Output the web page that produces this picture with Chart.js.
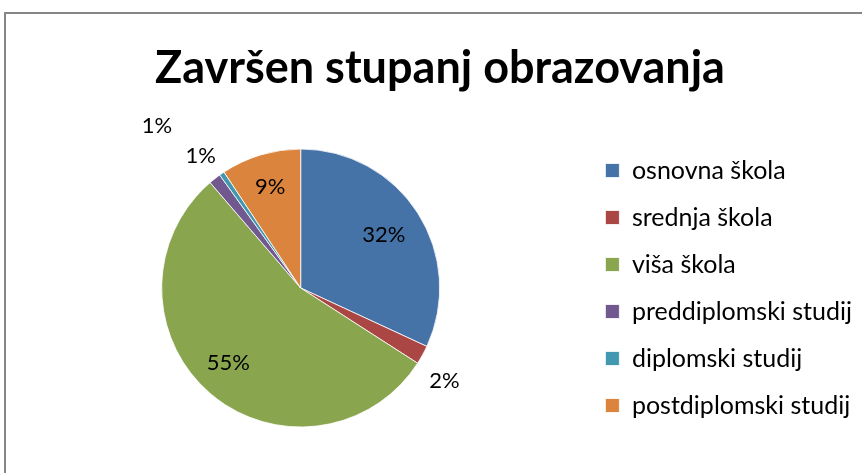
<!DOCTYPE html>
<html>
<head>
<meta charset="utf-8">
<script src="https://cdn.jsdelivr.net/npm/chart.js@4.4.1/dist/chart.umd.min.js"></script>
<style>
  html, body { margin: 0; padding: 0; background: #fff; }
  #wrap { position: relative; width: 862px; height: 473px; overflow: hidden; }
  #frame {
    position: absolute; left: 4px; top: 12px; width: 900px; height: 500px;
    border: 2px solid #868686; pointer-events: none;
  }
  canvas { position: absolute; left: 0; top: 0; }
</style>
</head>
<body>
<div id="wrap">
  <canvas id="chart" width="862" height="473"></canvas>
  <div id="frame"></div>
</div>
<script>
const categories = [
  "osnovna škola",
  "srednja škola",
  "viša škola",
  "preddiplomski studij",
  "diplomski studij",
  "postdiplomski studij"
];
const shares = [31.9, 2.2, 54.6, 1.4, 0.6, 9.3];
const shareLabels = ["32%", "2%", "55%", "1%", "1%", "9%"];
const sliceColors = ["#4572A7", "#AA4643", "#89A54E", "#71588F", "#4198AF", "#DB843D"];

// draws the percentage labels, inside big slices, outside for the thin ones
const sliceLabels = {
  id: "sliceLabels",
  afterDatasetsDraw(chart, args, opts) {
    const ctx = chart.ctx;
    const arcs = chart.getDatasetMeta(0).data;
    ctx.save();
    ctx.font = opts.font;
    ctx.fillStyle = "#000";
    ctx.textAlign = "center";
    ctx.textBaseline = "middle";
    arcs.forEach((arc, i) => {
      const p = arc.getProps(["x", "y", "startAngle", "endAngle", "outerRadius"], true);
      const mid = (p.startAngle + p.endAngle) / 2 + (opts.shift[i] || 0) * Math.PI / 180;
      const r = p.outerRadius * opts.radius[i];
      ctx.fillText(shareLabels[i], p.x + r * Math.cos(mid), p.y + r * Math.sin(mid));
    });
    ctx.restore();
  }
};

new Chart(document.getElementById("chart"), {
  type: "pie",
  data: {
    labels: categories,
    datasets: [{
      data: shares,
      backgroundColor: sliceColors,
      borderColor: "#ffffff",
      borderWidth: 0.8,
      radius: 139
    }]
  },
  options: {
    responsive: false,
    animation: false,
    layout: { padding: { left: 18, right: 0, top: 0, bottom: 29 } },
    plugins: {
      title: {
        display: true,
        text: "Završen stupanj obrazovanja",
        color: "#000",
        font: { family: "Lato", size: 45, weight: "bold" },
        padding: { top: 41, bottom: 37 }
      },
      legend: {
        position: "right",
        fullSize: false,
        maxWidth: 280,
        labels: {
          color: "#000",
          font: { family: "Lato", size: 25 },
          boxWidth: 14,
          boxHeight: 14,
          padding: 22
        }
      },
      tooltip: { enabled: false },
      sliceLabels: {
        font: "22px Lato",
        radius: [0.71, 1.23, 0.75, 1.19, 1.56, 0.76],
        shift: [0, 4, 3, 1, -7, 0]
      }
    }
  },
  plugins: [sliceLabels]
});
</script>
</body>
</html>
